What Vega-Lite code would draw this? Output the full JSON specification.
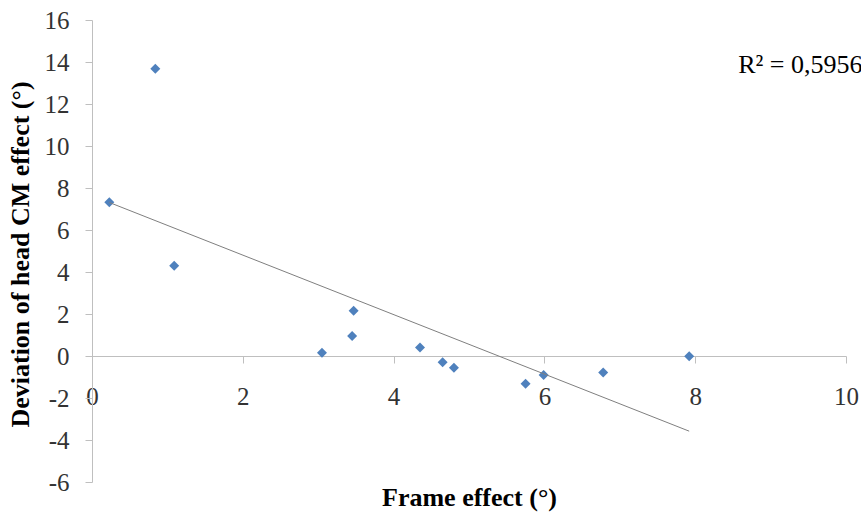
{
  "$schema": "https://vega.github.io/schema/vega-lite/v6.json",
  "width": 754,
  "height": 462,
  "autosize": "none",
  "padding": {"left": 92, "top": 20, "right": 15, "bottom": 31},
  "background": "white",
  "config": {"view": {"stroke": null}, "font": "Liberation Serif"},
  "data": {
    "values": [
      {"frame": 0.23, "deviation": 7.32},
      {"frame": 0.84, "deviation": 13.68},
      {"frame": 1.09, "deviation": 4.30},
      {"frame": 3.05, "deviation": 0.16},
      {"frame": 3.47, "deviation": 2.16},
      {"frame": 3.45, "deviation": 0.95},
      {"frame": 4.35, "deviation": 0.41},
      {"frame": 4.65, "deviation": -0.30},
      {"frame": 4.80, "deviation": -0.56},
      {"frame": 5.75, "deviation": -1.32},
      {"frame": 5.99, "deviation": -0.90},
      {"frame": 6.78, "deviation": -0.78},
      {"frame": 7.92, "deviation": -0.01}
    ]
  },
  "layer": [
    {
      "mark": {"type": "point", "shape": "diamond", "filled": true, "size": 100, "color": "#4F81BD", "opacity": 1},
      "encoding": {
        "x": {
          "field": "frame", "type": "quantitative",
          "scale": {"domain": [0, 10], "nice": false, "zero": false},
          "axis": {
            "values": [0, 2, 4, 6, 8, 10], "offset": -126, "grid": false,
            "labelExpr": "'' + datum.value",
            "domainColor": "#bfbfbf", "tickColor": "#bfbfbf", "tickSize": 7,
            "labelFont": "Liberation Serif", "labelFontSize": 25, "labelColor": "#333333",
            "labelPadding": 21, "labelFlush": false, "labelOverlap": false,
            "title": "Frame effect (°)", "titleFont": "Liberation Serif", "titleFontSize": 26,
            "titleFontWeight": "bold", "titleColor": "black", "titleY": 141, "titleBaseline": "middle"
          }
        },
        "y": {
          "field": "deviation", "type": "quantitative",
          "scale": {"domain": [-6, 16], "nice": false, "zero": false},
          "axis": {
            "values": [-6, -4, -2, 0, 2, 4, 6, 8, 10, 12, 14, 16], "grid": false,
            "labelExpr": "'' + datum.value",
            "domainColor": "#bfbfbf", "tickColor": "#bfbfbf", "tickSize": 7,
            "labelFont": "Liberation Serif", "labelFontSize": 25, "labelColor": "#333333",
            "labelPadding": 16, "labelFlush": false, "labelOverlap": false,
            "title": "Deviation of head CM effect (°)", "titleFont": "Liberation Serif", "titleFontSize": 26,
            "titleFontWeight": "bold", "titleColor": "black",
            "titleX": -72, "titleY": 234, "titleBaseline": "middle"
          }
        }
      }
    },
    {
      "transform": [{"regression": "deviation", "on": "frame"}],
      "mark": {"type": "line", "color": "#7f7f7f", "strokeWidth": 1},
      "encoding": {
        "x": {"field": "frame", "type": "quantitative"},
        "y": {"field": "deviation", "type": "quantitative"}
      }
    },
    {
      "data": {"values": [{"label": "R² = 0,5956"}]},
      "mark": {"type": "text", "align": "left", "baseline": "alphabetic", "fontSize": 26, "font": "Liberation Serif", "color": "black"},
      "encoding": {
        "x": {"datum": 8.57, "type": "quantitative"},
        "y": {"datum": 13.49, "type": "quantitative"},
        "text": {"field": "label", "type": "nominal"}
      }
    }
  ]
}
